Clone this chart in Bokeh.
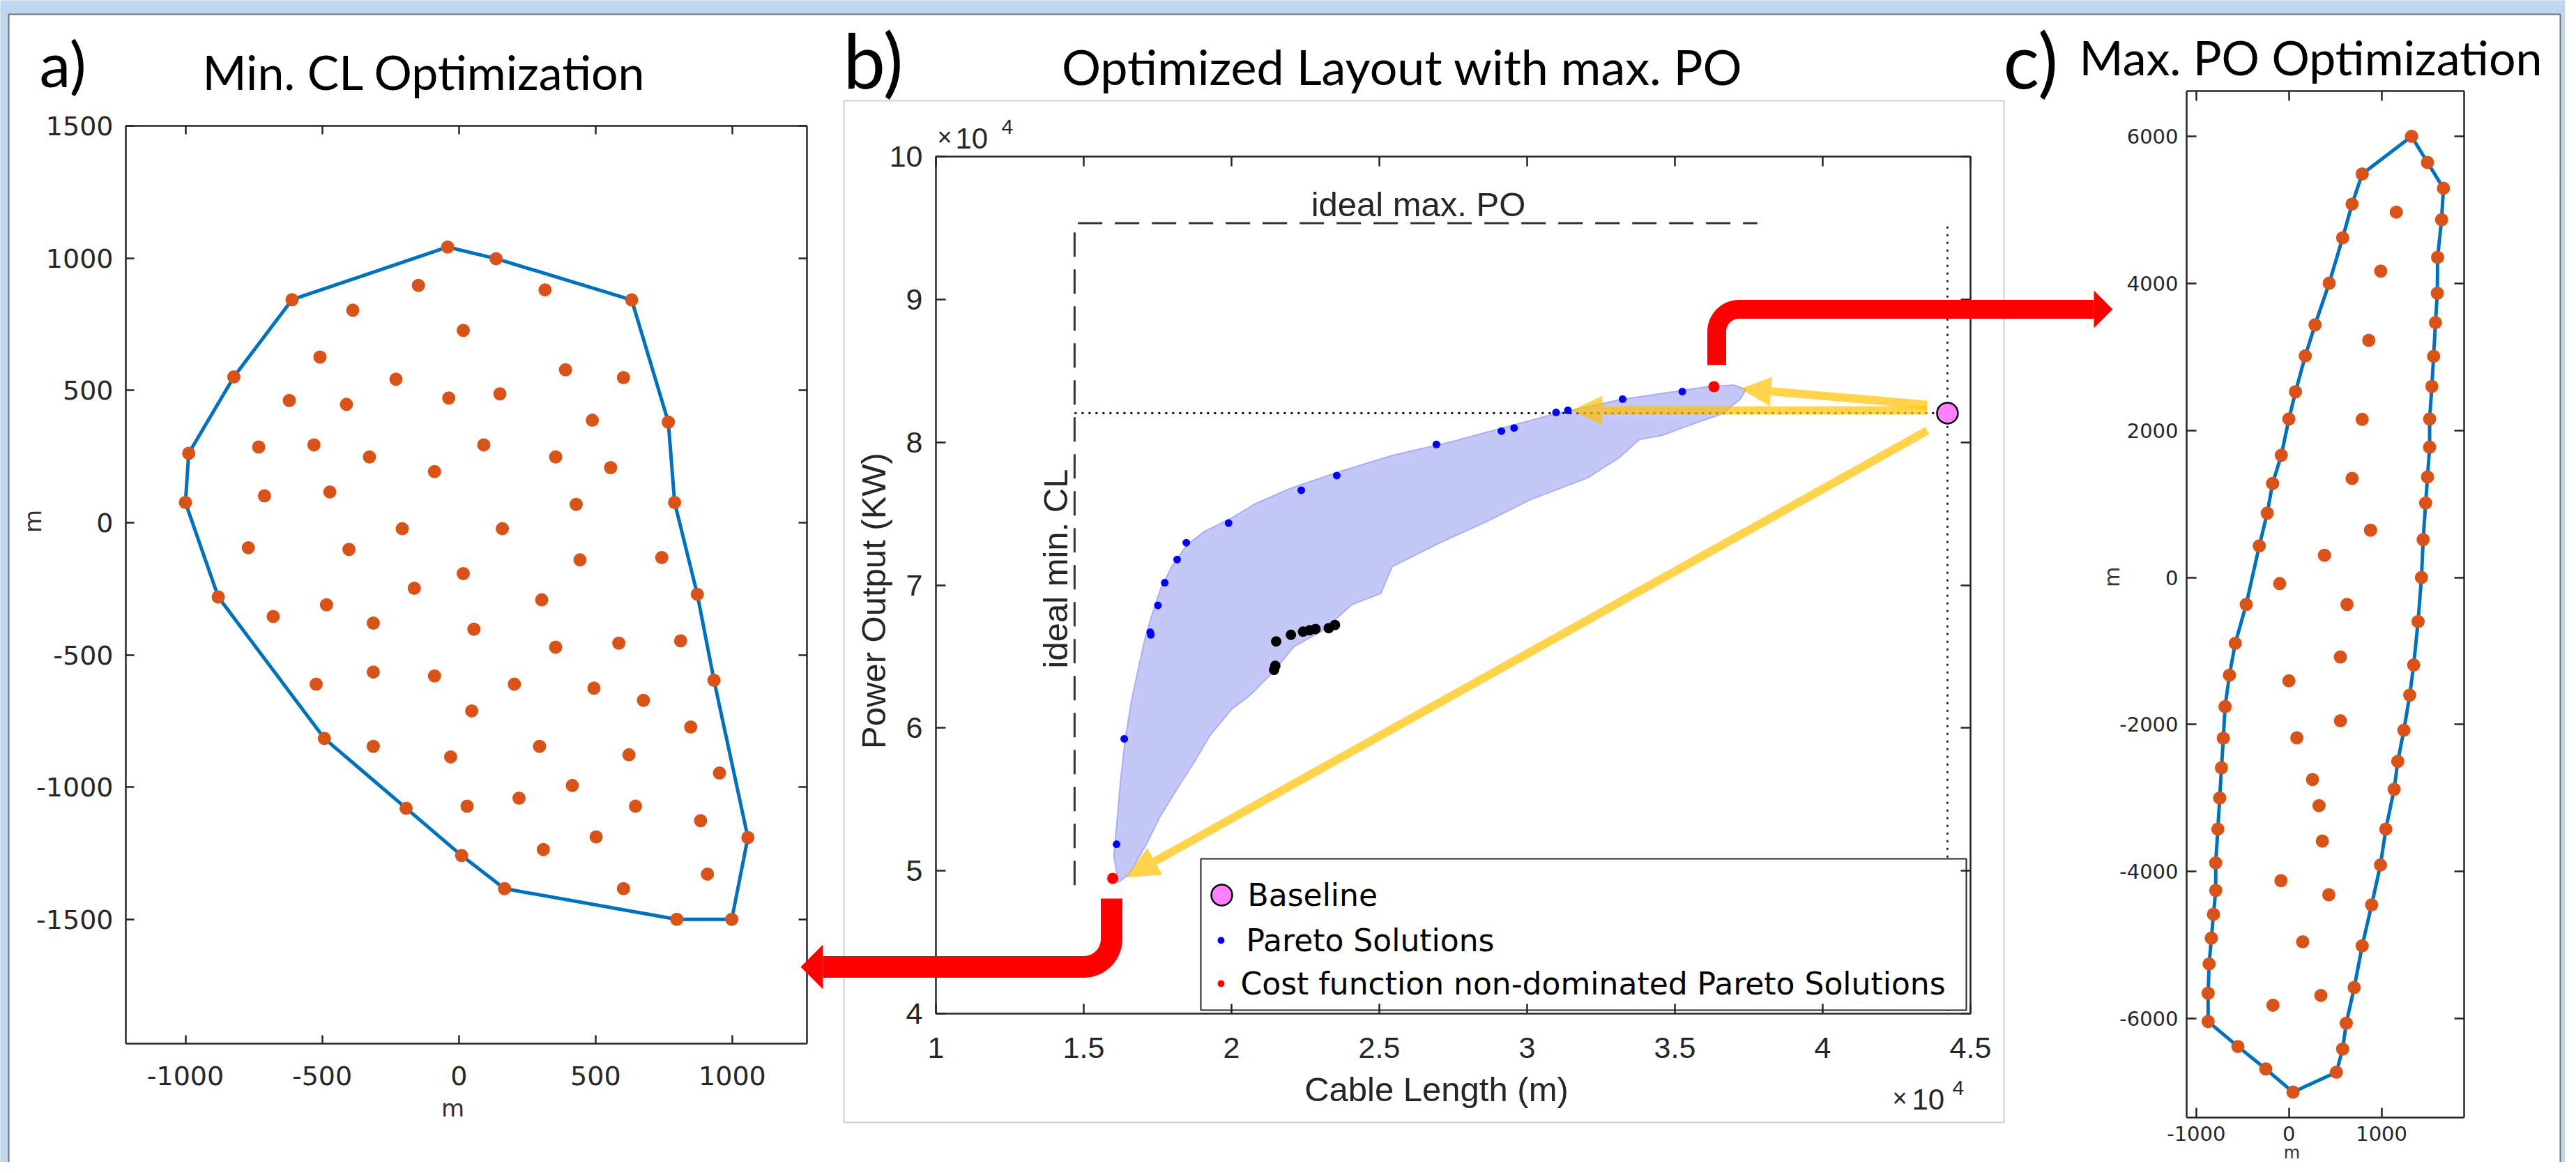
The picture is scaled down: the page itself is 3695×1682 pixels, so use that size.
import math
from bokeh.plotting import figure
from bokeh.models import Range1d, LinearAxis, FixedTicker, AllLabels
from bokeh.core.properties import value
from bokeh.embed import file_html
from bokeh.resources import INLINE

# ---------------- data: panel a (min. cable-length layout, m) ----------------
a_hull_x = [-41, 136, 632, 766, 789, 872, 933, 1057, 998, 797, 167, 10, -193, -492, -880, -1000, -988, -823, -610]
a_hull_y = [1042, 998, 842, 380, 76, -271, -596, -1191, -1500, -1500, -1384, -1259, -1080, -816, -281, 76, 262, 551, 843]
a_in_x = [-148, 315, -388, 16, -508, 390, -230, 602, -620, -411, -37, 150, 488, -732, -530, 91, -327, 354, -89, 555,
          -711, -472, 429, -207, 159, -770, -402, 443, 742, 16, -163, 303, -679, -484, -313, 55, 354, 585, 811,
          -522, -313, -89, 203, 494, 675, 47, 848, -313, -30, 295, 622, 953, 415, 220, 30, 646, 884, 502, 309, 909, 602]
a_in_y = [897, 880, 803, 727, 626, 578, 542, 548, 462, 447, 471, 487, 387, 286, 294, 294, 248, 248, 193, 208,
          101, 116, 69, -23, -23, -95, -101, -141, -132, -193, -248, -292, -355, -311, -380, -403, -471, -456, -447,
          -611, -565, -580, -611, -626, -672, -712, -773, -846, -886, -846, -878, -947, -994, -1042, -1072, -1072,
          -1127, -1188, -1236, -1329, -1384]
a_xticks = [-1000, -500, 0, 500, 1000]
a_yticks = [-1500, -1000, -500, 0, 500, 1000, 1500]

# ---------------- data: panel b (cable length m, power output kW) ----------------
b_cloud_x = [16170, 16020, 16130, 16250, 16400, 16620, 16880, 17080, 17300, 17600,
             17980, 18500, 19110, 20010, 20760, 21960, 23470, 25430, 27380, 29340,
             30840, 33100, 34600, 36110, 37000, 37400, 37200, 36600, 35500, 34600,
             33800, 33100, 32050, 30090, 28580, 27080, 25430, 25050, 24070, 23170,
             22110, 21360, 20610, 20010, 19260, 18730, 18200, 17600, 17150, 16550]
b_cloud_y = [49190, 51050, 53550, 56350, 59150, 61950, 64440, 66310, 67860, 69730,
             71290, 72840, 73780, 74710, 75650, 76740, 77820, 79070, 80000, 81090,
             81930, 82960, 83430, 83890, 84000, 83700, 83000, 82000, 81200, 80500,
             80200, 78900, 77510, 75960, 74400, 73000, 71290, 69420, 68640, 66930,
             65690, 63820, 62260, 61330, 59460, 57590, 55880, 53860, 51990, 49810]
pareto_x = [35250, 33230, 30980, 31380, 29130, 29560, 26930, 23560, 22360, 19900,
            18470, 18160, 17740, 17510, 17250, 17270, 16370, 16110]
pareto_y = [83550, 83020, 82090, 82240, 80780, 81000, 79850, 77670, 76640, 74340,
            72970, 71790, 70170, 68580, 66710, 66520, 59240, 51860]
black_x = [21510, 21440, 21480, 22010, 22420, 22640, 22840, 23290, 23500]
black_y = [66060, 64070, 64350, 66520, 66740, 66840, 66930, 66990, 67210]
best_x = [15980, 36320]
best_y = [49470, 83890]
base_x = [44220]
base_y = [82040]
ideal_cl = 14690
ideal_po = 95340
ideal_po_end = 37790
ideal_cl_end = 49000
b_xticks = [10000, 15000, 20000, 25000, 30000, 35000, 40000, 45000]
b_xlabels = ["1", "1.5", "2", "2.5", "3", "3.5", "4", "4.5"]
b_yticks = [40000, 50000, 60000, 70000, 80000, 90000, 100000]
b_ylabels = ["4", "5", "6", "7", "8", "9", "10"]

# ---------------- data: panel c (max. power-output layout, m) ----------------
c_hull_x = [1324, 1496, 1668, 1648, 1605, 1602, 1582, 1562, 1543, 1519, 1519, 1496, 1476, 1449, 1431, 1394, 1347,
            1304, 1241, 1175, 1136, 1046, 988, 893, 791, 705, 619, 580, 513, 44,
            -250, -551, -872, -872, -861, -837, -814, -790, -790, -767, -747, -728, -708, -689, -642, -579, -461,
            -320, -234, -176, -82, 0, 71, 177, 282, 435, 580, 682, 791]
c_hull_y = [6000, 5645, 5295, 4867, 4354, 3866, 3467, 3009, 2600, 2156, 1772, 1368, 1013, 515, 0, -598, -1190,
            -1599, -2077, -2501, -2880, -3422, -3910, -4452, -5009, -5576, -6063, -6413, -6729, -6999,
            -6684, -6379, -6039, -5654, -5255, -4905, -4580, -4255, -3880, -3422, -2998, -2589, -2185, -1756, -1328,
            -894, -367, 431, 875, 1279, 1663, 2156, 2526, 3014, 3438, 4004, 4620, 5079, 5488]
c_in_x = [1159, 991, 862, 791, 682, 881, 384, -100, 627, 556, 0, 556, 86, 255, 325, 361, -86, 431, 149, 345, -172]
c_in_y = [4970, 4167, 3226, 2151, 1348, 643, 303, -83, -367, -1081, -1406, -1949, -2180, -2747, -3102, -3585,
          -4122, -4314, -4955, -5684, -5817]
c_xticks = [-1000, 0, 1000]
c_yticks = [-6000, -4000, -2000, 0, 2000, 4000, 6000]

# ---------------- layout (image pixel coordinates) ----------------
W, H = 3679, 1666
X0, X1 = 8, 8 + W
Y0, Y1 = 8, 8 + H
BOX = {"a": (188, 1165, 188, 1504), "b": (1350, 2834, 232, 1461), "c": (3144, 3542, 138, 1610)}
LIM = {"a": ((-1218, 1273), (-1970, 1500)),
       "b": ((10000, 45000), (40000, 100000)),
       "c": ((-1104, 1891), (-7345, 6617))}

p = figure(width=W, height=H, output_backend="svg", toolbar_location=None,
           x_range=Range1d(X0, X1), y_range=Range1d(Y1, Y0),
           x_axis_type=None, y_axis_type=None, min_border=0)
p.outline_line_color = None
p.background_fill_color = "#BDD7EE"
p.border_fill_color = "#BDD7EE"

exr, eyr = {}, {}
for k in "abc":
    l, r, t, b = BOX[k]
    (x0, x1), (y0, y1) = LIM[k]
    kx = (x1 - x0) / (r - l)
    ky = (y1 - y0) / (b - t)
    exr[k + "x"] = Range1d(x0 + (X0 - l) * kx, x0 + (X1 - l) * kx)
    eyr[k + "y"] = Range1d(y0 - (Y1 - b) * ky, y0 + (b - Y0) * ky)
p.extra_x_ranges = exr
p.extra_y_ranges = eyr


def axes(k, xt, yt, font, size, xstand, ystand, tlen, xlab, ylab, lw=2.5, color="#262626"):
    (x0, x1), (y0, y1) = LIM[k]
    loc = {"below": y0, "above": y1, "left": x0, "right": x1}
    for side in ("below", "above", "left", "right"):
        horiz = side in ("below", "above")
        ticks = xt if horiz else yt
        ax = LinearAxis(x_range_name=k + "x", y_range_name=k + "y", fixed_location=loc[side],
                        bounds=(x0, x1) if horiz else (y0, y1),
                        ticker=FixedTicker(ticks=ticks, minor_ticks=[]),
                        major_label_policy=AllLabels())
        ax.axis_line_width = lw
        ax.axis_line_color = color
        ax.major_tick_line_width = lw
        ax.major_tick_line_color = color
        ax.major_tick_in = tlen
        ax.major_tick_out = 0
        ax.minor_tick_line_color = None
        ax.major_label_text_font = font
        ax.major_label_text_font_size = f"{size}px"
        ax.major_label_text_color = color
        ax.major_label_standoff = xstand if horiz else ystand
        if side in ("above", "right"):
            ax.major_label_overrides = {t: "" for t in ticks}
        else:
            labels = xlab if horiz else ylab
            ax.major_label_overrides = dict(zip(ticks, labels))
        p.add_layout(ax, side)


def txt(x, y, s, font, size, align="left", rotated=False, color="black"):
    # (x, y) is the visual centre line of the text
    if not rotated:
        y += 0.05 * size
    p.text(x=[x], y=[y], text=[s], text_font=value(font), text_font_size=f"{size}px",
           text_align=align, text_baseline="middle", angle=(math.pi / 2 if rotated else 0.0),
           text_color=color)


# background panels
p.quad(left=[20], right=[3680], top=[28], bottom=[1700], fill_color="white",
       line_color="#6F6F6F", line_width=2)
p.quad(left=[1218], right=[2882], top=[152], bottom=[1617], fill_color="white",
       line_color="#CFCFCF", line_width=2)

# ---- panel a ----
ra = dict(x_range_name="ax", y_range_name="ay")
p.line(a_hull_x + a_hull_x[:1], a_hull_y + a_hull_y[:1], line_color="#0072BD", line_width=5, **ra)
p.scatter(a_hull_x + a_in_x, a_hull_y + a_in_y, size=19, fill_color="#D95319", line_color=None, **ra)
axes("a", a_xticks, a_yticks, "DejaVu Sans", 38, 32, 18, 12,
     [str(t) for t in a_xticks], [str(t) for t in a_yticks])

# ---- panel c ----
rc = dict(x_range_name="cx", y_range_name="cy")
p.line(c_hull_x + c_hull_x[:1], c_hull_y + c_hull_y[:1], line_color="#0072BD", line_width=5, **rc)
p.scatter(c_hull_x + c_in_x, c_hull_y + c_in_y, size=19, fill_color="#D95319", line_color=None, **rc)
axes("c", c_xticks, c_yticks, "DejaVu Sans", 29, 12, 12, 14,
     [str(t) for t in c_xticks], [str(t) for t in c_yticks])

# ---- panel b ----
rb = dict(x_range_name="bx", y_range_name="by")
p.patch(b_cloud_x, b_cloud_y, fill_color="#C5C7F9", line_color="#A9ADF2", line_width=2, **rb)
p.line([ideal_cl, ideal_cl, ideal_po_end], [ideal_cl_end, ideal_po, ideal_po], line_color="#333333",
       line_width=3, line_dash="35 18", **rb)
p.line([ideal_cl, base_x[0]], [base_y[0], base_y[0]], line_color="#111111", line_width=3,
       line_dash="3 7", **rb)
p.line([base_x[0], base_x[0]], [95100, 40000], line_color="#111111", line_width=2.5, line_dash="3 8", **rb)
p.scatter(pareto_x, pareto_y, size=11, fill_color="#0000FF", line_color=None, **rb)
p.scatter(black_x, black_y, size=15, fill_color="black", line_color=None, **rb)
axes("b", b_xticks, b_yticks, "Liberation Sans", 43, 34, 19, 14, b_xlabels, b_ylabels)


# yellow arrows (pixel space)
def straight_arrow(sx, sy, tx, ty, hl, hw, color, alpha, lw):
    d = math.hypot(sx - tx, sy - ty)
    ux, uy = (sx - tx) / d, (sy - ty) / d
    bx, by = tx + ux * hl, ty + uy * hl
    p.line([sx, bx], [sy, by], line_color=color, line_alpha=alpha, line_width=lw)
    p.patch([tx, bx - uy * hw, bx + uy * hw], [ty, by + ux * hw, by - ux * hw],
            fill_color=color, fill_alpha=alpha, line_color=None)


straight_arrow(2772, 625, 1622, 1266, 48, 22, "#FFC000", 0.7, 12)
straight_arrow(2772, 596, 2262, 596, 44, 21, "#FFC000", 0.7, 12)
straight_arrow(2772, 588, 2504, 565, 44, 21, "#FFC000", 0.7, 12)

p.scatter(best_x, best_y, size=16, fill_color="#FF0000", line_color=None, **rb)
p.scatter(base_x, base_y, size=30, fill_color="#FF80FF", line_color="black", line_width=2.5, **rb)

# legend box
p.quad(left=[1730], right=[2828], top=[1239], bottom=[1456], fill_color="white",
       line_color="#262626", line_width=2)
p.scatter([1760], [1291], size=30, fill_color="#FF80FF", line_color="black", line_width=2.5)
p.scatter([1759], [1356], size=10, fill_color="#0000FF", line_color=None)
p.scatter([1759], [1418], size=10, fill_color="#FF0000", line_color=None)
txt(1797, 1289, "Baseline", "DejaVu Sans", 44)
txt(1795, 1354, "Pareto Solutions", "DejaVu Sans", 44)
txt(1787, 1416, "Cost function non-dominated Pareto Solutions", "DejaVu Sans", 44)

# ---- texts ----
txt(64, 93, "a)", "Lato", 90)
txt(1217, 87, "b)", "Lato", 108)
txt(2881, 87, "c)", "Lato", 108)
txt(616, 107, "Min. CL Optimization", "Lato", 68, align="center")
txt(2019, 99, "Optimized Layout with max. PO", "Lato", 70, align="center")
txt(3322, 86, "Max. PO Optimization", "Lato", 68, align="center")

txt(657, 1595, "m", "DejaVu Sans", 34, align="center", color="#333333")
txt(54, 755, "m", "DejaVu Sans", 34, align="center", rotated=True, color="#333333")
txt(3295, 1659, "m", "DejaVu Sans", 24, align="center", color="#333333")
txt(3037, 835, "m", "DejaVu Sans", 30, align="center", rotated=True, color="#333333")

txt(2042, 298, "ideal max. PO", "Liberation Sans", 49, align="center", color="#262626")
txt(1521, 823, "ideal min. CL", "Liberation Sans", 49, align="center", rotated=True, color="#262626")
txt(1260, 869, "Power Output (KW)", "Liberation Sans", 49, align="center", rotated=True, color="#262626")
txt(2068, 1567, "Cable Length (m)", "Liberation Sans", 49, align="center", color="#262626")
txt(1352, 202, "\u00d7", "Liberation Sans", 36, color="#262626")
txt(1378, 204, "10", "Liberation Sans", 42, color="#262626")
txt(1444, 188, "4", "Liberation Sans", 30, color="#262626")
txt(2722, 1580, "\u00d7", "Liberation Sans", 36, color="#262626")
txt(2750, 1582, "10", "Liberation Sans", 42, color="#262626")
txt(2808, 1566, "4", "Liberation Sans", 30, color="#262626")


# ---- red L-shaped arrows (pixel space, drawn on top) ----
def l_arrow(sx, sy, hy, ex, r, lw, hl, hw, down_left):
    xs, ys = [sx], [sy]
    if down_left:
        cx, cy = sx - r, hy - r
        for i in range(19):
            t = (math.pi / 2) * i / 18
            xs.append(cx + r * math.cos(t)); ys.append(cy + r * math.sin(t))
        xs.append(ex + hl); ys.append(hy)
        head = ([ex + hl, ex + hl, ex], [hy - hw, hy + hw, hy])
    else:
        cx, cy = sx + r, hy + r
        for i in range(19):
            t = math.pi + (math.pi / 2) * i / 18
            xs.append(cx + r * math.cos(t)); ys.append(cy + r * math.sin(t))
        xs.append(ex - hl); ys.append(hy)
        head = ([ex - hl, ex - hl, ex], [hy - hw, hy + hw, hy])
    p.line(xs, ys, line_color="#FF0000", line_width=lw, line_join="round", level="overlay")
    p.patch(head[0], head[1], fill_color="#FF0000", line_color=None, level="overlay")


l_arrow(1602, 1296, 1394, 1156, 40, 31, 32, 32, True)
l_arrow(2470, 531, 451, 3038, 32, 27, 27, 27, False)

open("out.html", "w").write(file_html(p, INLINE))
